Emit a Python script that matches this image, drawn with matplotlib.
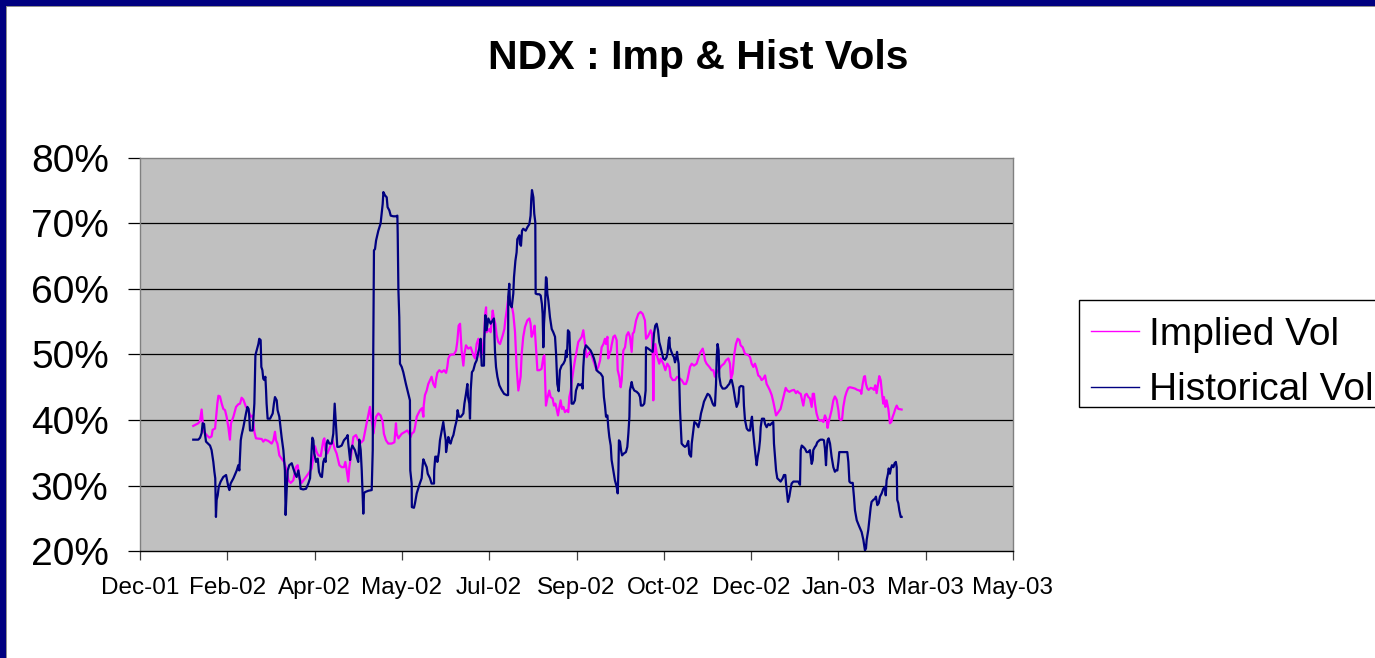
import numpy as np
import matplotlib
matplotlib.use('Agg')
import matplotlib.pyplot as plt
import matplotlib.dates as mdates
from matplotlib.patches import Rectangle
from matplotlib.lines import Line2D
from matplotlib.ticker import FuncFormatter
from datetime import datetime

plt.rcParams['font.family'] = ['Liberation Sans', 'DejaVu Sans']

TITLE = "NDX : Imp & Hist Vols"
SERIES_NAMES = ["Implied Vol", "Historical Vol"]
AXIS_START = datetime(2001, 12, 25)   # first date on the axis (Dec-01 tick)
TICK_STEP_DAYS = 50
N_TICKS = 11
Y_TICKS = [20, 30, 40, 50, 60, 70, 80]

# days after AXIS_START, implied vol in %
imp_day = [
    30.5, 33.4, 34.4, 35.3, 35.9, 36.7, 38.2, 39.7, 41.0, 41.6,
    43.0, 43.5, 44.3, 44.9, 45.8, 46.8, 47.7, 48.7, 49.6, 50.6,
    51.5, 52.1, 53.5, 55.0, 56.3, 57.3, 58.2, 59.2, 60.7, 62.0,
    63.4, 64.5, 65.5, 66.4, 69.7, 70.6, 71.6, 73.5, 75.4, 76.4,
    77.3, 77.9, 78.7, 79.8, 81.1, 82.5, 84.0, 85.0, 86.3, 87.8,
    89.3, 90.3, 91.3, 92.6, 94.5, 96.4, 98.3, 99.3, 100.2, 101.2,
    102.1, 103.5, 105.0, 105.6, 106.1, 107.3, 108.4, 110.3, 111.5, 112.6,
    114.2, 115.5, 116.8, 117.6, 118.4, 119.3, 119.9, 120.8, 122.2, 123.7,
    125.0, 126.4, 127.9, 129.8, 131.7,
    132.3, 133.3, 133.6, 134.2, 135.2, 136.5, 137.8, 139.0, 139.7, 140.9,
    142.2, 144.1, 145.7, 146.6, 147.0, 148.0, 148.5, 149.9, 151.8, 153.1,
    154.3, 155.0, 155.6, 156.9, 157.5, 158.5, 159.4, 160.4, 161.5, 162.3,
    162.5, 163.2, 164.2, 165.1, 166.1, 167.0, 168.0, 169.0, 169.5, 170.3,
    171.4, 172.8, 174.1, 175.3, 176.0, 176.6, 177.5, 178.5, 179.8, 181.0,
    181.7, 182.5, 183.3, 183.8, 184.2, 185.2, 185.8, 186.7, 188.0, 189.4,
    190.9, 191.9, 192.8, 193.8, 194.3, 195.1, 196.1, 197.2, 197.6, 198.2,
    198.5, 199.5, 200.1, 200.8, 201.4, 202.0, 202.7, 203.5, 204.3, 205.2,
    206.2, 207.7, 208.7, 209.2, 210.0, 211.0, 211.9, 212.9, 213.8, 214.8,
    215.7, 216.7, 217.3, 218.0, 218.6, 219.5, 220.5, 221.8, 223.0, 223.7,
    224.3, 225.3, 226.0, 226.8, 227.6, 228.7, 230.0, 231.0, 231.6, 232.0,
    232.5, 233.3, 234.4, 235.2, 236.3, 237.1, 237.9, 238.6, 239.4, 240.2,
    240.9, 241.7, 242.5, 243.4, 244.4, 245.3, 245.9, 246.7, 247.4, 248.2,
    249.1, 250.1, 251.0,
    253.0, 253.9, 254.5, 255.1, 255.8, 256.8, 257.7, 258.7, 259.6, 260.6,
    261.5, 262.5, 263.5, 264.4, 265.4, 266.3, 266.9, 267.7, 268.2, 268.8,
    269.6, 270.1, 271.1, 272.0, 273.0, 273.6, 274.5, 275.3, 275.9, 276.8,
    277.8, 278.7, 279.7, 280.6, 281.6, 282.2, 282.9, 284.1, 285.4, 286.7,
    287.9, 289.2, 289.8, 290.8, 291.7, 292.5, 293.2, 293.6, 294.0, 294.4,
    295.1, 296.3, 297.4, 298.2, 299.7, 300.9, 302.0, 303.2, 303.9, 305.1,
    306.4, 307.7, 309.3, 310.2, 311.6, 312.7, 313.5, 315.0, 316.0, 317.3,
    318.8, 320.3, 321.1, 322.3, 323.0, 323.6, 324.5, 326.1, 327.4, 328.4,
    329.3, 330.3, 331.8, 333.1, 334.5, 335.6, 337.0, 337.9, 338.5, 339.4,
    340.4, 341.3, 342.3, 343.3, 344.0, 345.2, 346.5, 347.5, 348.4, 349.4,
    350.3, 351.3, 352.2, 353.2, 354.1, 355.1, 356.0, 357.0, 358.0, 358.9,
    359.9, 360.8, 361.8, 362.7, 363.7, 364.3, 365.6, 366.9, 368.1, 368.8,
    369.8, 370.7, 371.9, 373.2, 374.6, 375.7, 376.5, 377.6, 378.4,
    379.0, 379.9, 380.9, 381.8, 382.8, 383.7, 384.7, 385.3, 386.0, 386.6,
    387.5, 388.5, 389.5, 390.4, 391.4, 392.3, 393.3, 393.8, 394.4, 395.2,
    396.1, 397.1, 398.0, 399.0, 400.0, 400.5, 401.3, 402.1, 402.8, 403.8,
    404.7, 405.7, 406.6, 408.2, 409.5, 410.8, 412.0, 412.7, 413.1, 413.9,
    414.7, 415.2, 415.8, 416.6, 417.3, 418.5, 419.6, 420.4, 421.1, 421.9,
    422.7, 423.4, 424.2, 425.0, 425.7, 426.1, 426.9, 427.6, 428.6, 429.5,
    430.3, 431.1, 431.8, 432.6, 433.4, 434.3, 436.2,
]
imp_vol = [
    39.1, 39.5, 39.9, 41.6, 39.7, 38.2, 37.7, 37.3, 37.5, 38.5,
    38.7, 40.1, 42.5, 43.7, 43.6, 42.5, 41.7, 41.5, 40.5, 38.9,
    37.0, 39.5, 40.5, 42.0, 42.4, 42.5, 43.4, 43.1, 42.0, 41.5,
    40.5, 40.7, 38.2, 37.2, 37.1, 36.7, 37.0, 36.8, 36.4, 36.9,
    38.2, 36.9, 36.4, 34.6, 34.1, 33.6, 32.3, 30.8, 30.4, 30.8,
    32.8, 33.1, 31.1, 30.4, 31.1, 31.8, 32.6, 34.4, 36.0, 35.1,
    34.6, 34.5, 36.9, 37.2, 35.4, 34.9, 35.6, 36.9, 35.6, 34.9,
    33.1, 32.8, 32.8, 33.6, 32.3, 30.6, 32.8, 34.4, 37.4, 37.7,
    36.9, 36.5, 36.9, 39.5, 42.0,
    40.5, 38.9, 37.9, 38.9, 40.5, 41.0, 40.7, 39.7, 37.9, 36.9,
    36.4, 36.4, 36.6, 39.5, 37.9, 37.2, 37.4, 37.9, 38.2, 38.4,
    37.9, 37.4, 37.9, 38.2, 38.9, 40.5, 41.0, 41.5, 41.8, 40.5,
    42.2, 43.8, 44.5, 45.5, 46.1, 46.6, 45.5, 45.0, 46.1, 47.2,
    47.6, 47.3, 47.6, 47.2, 48.1, 49.4, 49.9, 50.0, 50.0, 50.6,
    51.9, 54.4, 54.7, 52.4, 50.6, 48.3, 50.1, 51.4, 50.9, 51.1,
    49.9, 49.4, 51.6, 52.4, 51.4, 49.6, 50.6, 52.9, 56.0, 57.2,
    53.4, 53.7, 53.9, 53.4, 54.9, 56.7, 55.5, 54.7, 52.9, 51.9,
    51.6, 52.9, 53.9, 55.2, 56.7, 58.8, 58.2, 57.5, 56.2, 53.4,
    48.1, 44.5, 45.5, 46.6, 50.1, 52.7, 54.2, 55.2, 55.5, 54.7,
    52.7, 53.4, 54.4, 50.9, 47.6, 47.6, 47.8, 49.6, 49.9, 46.6,
    42.2, 43.3, 44.5, 43.5, 43.3, 42.2, 42.5, 41.7, 40.7, 42.0,
    43.0, 41.7, 42.0, 41.2, 41.5, 41.2, 43.5, 44.5, 46.1, 47.6,
    49.1, 50.6, 51.9,
    52.7, 53.7, 52.4, 51.1, 49.6, 50.1, 50.4, 49.9, 49.1, 48.3,
    47.6, 48.1, 49.1, 51.1, 51.6, 52.4, 51.6, 52.7, 49.4, 50.1,
    50.6, 51.4, 52.7, 52.9, 52.2, 47.6, 46.6, 45.0, 46.1, 50.6,
    51.1, 52.9, 53.4, 52.7, 50.4, 53.2, 53.4, 55.2, 56.2, 56.5,
    56.2, 55.2, 52.4, 52.7, 53.2, 53.7, 53.2, 50.6, 43.0, 49.6,
    51.6, 49.6, 48.6, 49.4, 48.6, 47.6, 48.6, 48.1, 46.6, 46.1,
    46.1, 46.6, 46.3, 46.1, 45.5, 45.5, 46.1, 48.1, 48.6, 48.3,
    48.6, 49.9, 50.4, 50.9, 50.1, 49.1, 48.6, 48.1, 47.6, 47.6,
    46.6, 47.3, 47.8, 48.3, 48.6, 49.1, 49.4, 48.6, 46.3, 47.1,
    50.1, 51.6, 52.4, 52.2, 51.4, 51.1, 50.1, 50.0, 49.9, 49.6,
    48.6, 48.1, 48.6, 47.8, 46.8, 46.6, 46.1, 46.3, 46.8, 45.5,
    45.0, 44.5, 43.8, 42.8, 41.5, 40.7, 41.2, 41.7, 43.0, 43.8,
    44.9, 44.5, 44.3, 44.5, 44.6, 44.1, 44.4, 44.1, 44.0,
    43.3, 42.2, 43.8, 44.0, 43.5, 43.3, 42.0, 44.0, 44.0, 42.5,
    41.0, 40.1, 39.9, 40.0, 39.7, 40.7, 40.0, 38.8, 39.7, 40.5,
    41.5, 43.0, 43.6, 43.1, 41.5, 40.2, 40.0, 40.1, 42.0, 43.5,
    44.3, 44.9, 45.0, 44.9, 44.8, 44.6, 44.5, 44.5, 44.0, 45.5,
    46.6, 46.7, 45.5, 44.8, 44.6, 44.9, 44.8, 44.6, 45.3, 44.1,
    45.5, 46.7, 46.1, 44.0, 42.5, 43.5, 42.0, 43.0, 41.7, 39.5,
    39.7, 40.5, 41.0, 41.7, 42.2, 41.7, 41.6,
]

# days after AXIS_START, historical vol in %
hist_day = [
    30.5, 33.4, 34.4, 35.3, 35.9, 36.7, 37.2, 37.8, 40.1, 41.0,
    42.0, 42.6, 43.1, 43.5, 43.9, 44.5, 45.1, 46.2, 47.7, 49.3,
    50.0, 50.6, 51.2, 51.9, 53.5, 55.4, 56.3, 56.9, 57.7, 58.2,
    59.2, 60.7, 61.5, 62.2, 62.6, 63.0, 64.5, 65.5, 66.1, 66.8,
    67.8, 68.3, 69.1, 69.5, 70.1, 70.6, 71.2, 71.8, 72.2, 72.5,
    73.1, 74.5, 76.0, 76.7, 77.3, 78.3, 78.8, 79.8, 81.1, 82.1,
    83.0, 83.4, 84.0, 84.6, 85.5, 86.9, 87.8, 88.8, 89.7, 90.7,
    91.6, 92.0, 93.5, 95.1, 96.4, 97.4, 98.3, 98.7, 99.3, 99.8,
    100.8, 101.8, 102.5, 103.5, 104.2, 105.0, 105.6, 106.3, 106.9, 107.5,
    108.4, 109.8, 110.7, 111.5, 112.3, 113.0, 114.0, 115.5, 116.8, 118.4,
    118.9, 119.3, 120.3, 120.8, 121.6, 123.1, 124.1, 125.0, 125.6, 126.4,
    127.0, 127.5, 127.9,
    128.3, 128.9, 130.8, 132.7, 133.3, 133.6, 134.0, 134.6, 135.2, 136.5,
    137.8, 138.4, 139.0, 139.4, 140.3, 141.3, 141.8, 142.8, 143.6, 145.1,
    146.6, 147.4, 147.6, 148.0, 148.5, 148.9, 149.9, 150.8, 152.3, 153.7,
    154.6, 154.8, 155.6, 155.7, 156.9, 157.5, 158.5, 160.0, 161.3, 161.9,
    162.3, 163.2, 164.2, 164.8, 166.1, 167.0, 168.4, 168.5, 169.1, 169.9,
    170.3, 171.2, 171.8, 172.8, 173.7, 174.3, 175.1, 175.3, 176.0, 176.6,
    177.2, 177.9, 178.7, 179.5, 180.4, 181.4, 181.9, 182.7, 183.8, 185.2,
    185.8, 186.7, 187.5, 187.9, 188.6, 189.0, 189.4, 190.1, 190.9, 191.9,
    192.8, 193.8, 194.3, 195.1, 195.7, 197.0, 197.2, 197.8, 198.5, 199.5,
    200.8, 202.0, 202.7, 203.3, 203.9, 204.7, 205.8, 207.1, 208.5, 210.0,
    210.8, 210.9, 211.5, 211.9, 212.9, 213.8, 214.2, 215.0, 215.7, 216.1,
    217.3, 217.6, 218.2, 218.8, 219.5, 220.9, 221.8, 223.0, 223.7, 224.1,
    224.5, 225.3, 225.8, 226.4, 226.6, 227.6, 228.7, 229.5, 230.2, 230.6,
    231.0, 231.4, 232.0, 232.5, 232.9, 233.3, 233.9, 234.8, 235.8, 236.7,
    237.7, 238.3, 239.0, 239.8, 240.2, 240.5, 241.5, 242.5, 243.4, 244.0,
    244.4, 244.7, 245.1, 245.9, 246.3, 246.8, 247.2, 248.2, 249.1, 249.7,
    251.0, 252.0,
    253.0, 253.5, 253.9, 254.5, 255.4, 256.8, 258.1, 259.3, 260.0, 260.8,
    261.5, 262.7, 263.8, 265.0, 265.7, 266.3, 266.9, 267.7, 268.2, 268.8,
    269.6, 270.1, 271.1, 272.0, 273.0, 273.6, 274.0, 274.3, 274.9, 275.5,
    276.1, 277.2, 278.3, 279.1, 279.7, 280.3, 280.6, 281.6, 282.2, 283.1,
    284.5, 285.6, 286.4, 286.9, 287.9, 288.8, 289.6, 289.8, 291.1, 292.5,
    293.6, 294.4, 295.1, 295.9, 296.7, 297.4, 298.2, 298.8, 299.7, 300.7,
    301.6, 302.2, 302.8, 303.2, 303.5, 304.1, 305.1, 305.8, 306.4, 307.0,
    307.6, 307.9, 308.5, 308.9, 309.3, 310.2, 311.2, 312.1, 313.1, 314.0,
    314.6, 315.6, 316.0, 316.9, 317.5, 318.8, 319.8, 320.7, 321.3, 322.3,
    323.0, 324.2, 325.1, 326.1, 327.0, 328.0, 328.7, 329.3, 329.9, 330.3,
    330.8, 331.4, 331.8, 332.6, 333.7, 335.0, 336.0, 336.8, 337.5, 338.3,
    338.9, 339.8, 340.8, 341.7, 342.7, 343.3, 344.2, 345.5, 345.9, 346.5,
    347.5, 348.4, 349.4, 349.9, 350.5, 351.1, 351.8, 352.4, 353.2, 353.8,
    354.5, 355.1, 355.5, 356.2, 357.4, 358.0, 358.9, 359.9, 360.8, 361.8,
    362.7, 363.1, 363.7, 364.3, 365.0, 366.2, 366.9, 368.1, 368.8, 369.6,
    370.0, 370.6, 371.1, 371.9, 372.5, 373.2, 374.2, 375.7, 377.0, 378.0,
    378.4, 379.0, 379.9, 380.9, 381.8, 382.8, 383.7, 384.7, 385.3, 385.6,
    386.6, 387.2, 387.9, 389.1, 389.8, 391.0, 391.7, 392.3, 392.9, 393.3,
    393.8, 394.4, 395.2, 396.1, 397.1, 398.0, 398.6, 399.4, 400.0, 400.5,
    401.9, 403.8, 405.1, 405.7, 406.3, 407.0, 408.2, 408.9, 409.5, 410.5,
    412.0, 413.3, 414.3, 415.2, 415.8, 416.2, 417.1, 417.7, 418.5, 419.0,
    420.0, 421.0, 421.5, 422.3, 423.1, 423.8, 424.8, 425.7, 426.7, 427.1,
    427.6, 428.4, 428.8, 429.5, 430.1, 430.7, 431.5, 432.2, 432.9, 433.4,
    433.7, 434.3, 434.9, 435.7, 436.2,
]
hist_vol = [
    37.0, 37.0, 37.3, 38.0, 39.5, 39.4, 37.9, 36.7, 36.1, 35.4,
    33.6, 32.1, 31.1, 25.2, 27.8, 28.5, 29.8, 30.6, 31.3, 31.6,
    30.6, 29.8, 29.3, 30.3, 31.1, 32.3, 33.1, 32.3, 36.9, 37.7,
    38.9, 41.0, 42.0, 41.7, 40.5, 38.4, 38.4, 42.5, 49.9, 50.6,
    51.6, 52.4, 52.2, 48.1, 47.6, 46.3, 46.1, 46.6, 44.5, 42.5,
    40.2, 40.2, 41.0, 42.5, 43.5, 43.0, 41.5, 40.5, 37.4, 35.4,
    32.3, 25.5, 29.3, 32.3, 33.1, 33.4, 32.6, 31.8, 31.3, 32.3,
    30.8, 29.5, 29.4, 29.5, 30.3, 31.1, 35.4, 37.3, 36.9, 34.9,
    33.6, 34.1, 32.1, 31.4, 31.3, 33.6, 34.1, 33.6, 36.4, 36.9,
    36.4, 36.4, 37.9, 42.5, 38.9, 35.9, 35.9, 36.1, 36.9, 37.4,
    37.7, 36.4, 33.9, 35.4, 36.1, 35.4, 34.4, 33.6, 37.0, 35.4,
    32.3, 28.8, 25.7,
    28.8, 29.0, 29.2, 29.3, 35.4, 50.6, 65.9, 66.1, 67.4, 68.9,
    70.0, 71.5, 73.0, 74.8, 74.3, 74.0, 72.5, 72.0, 71.2, 71.1,
    71.1, 71.2, 68.4, 59.8, 55.7, 48.6, 48.1, 47.3, 45.5, 44.0,
    43.0, 32.3, 30.3, 26.7, 26.6, 27.3, 28.8, 30.1, 31.1, 33.1,
    34.0, 33.4, 32.8, 31.8, 31.1, 30.3, 30.3, 32.3, 34.4, 34.4,
    33.6, 35.1, 36.9, 38.4, 39.7, 38.4, 36.9, 35.1, 36.4, 37.4,
    36.7, 36.4, 37.2, 37.7, 38.9, 40.0, 41.5, 40.5, 40.5, 41.0,
    42.5, 44.0, 45.5, 43.5, 42.5, 40.2, 44.5, 47.3, 47.6, 48.6,
    49.1, 50.4, 50.9, 52.4, 48.3, 48.3, 52.4, 56.0, 53.7, 55.5,
    54.7, 55.2, 55.5, 50.6, 48.1, 46.6, 45.3, 44.6, 44.0, 43.8,
    43.8, 58.8, 60.8, 57.7, 57.2, 59.3, 61.8, 64.3, 65.6, 67.6,
    68.2, 66.9, 66.6, 68.9, 69.2, 68.9, 69.4, 69.9, 71.2, 73.7,
    75.1, 74.0, 71.5, 70.2, 59.3, 59.2, 59.2, 59.0, 57.7, 56.2,
    51.1, 54.7, 57.5, 61.8, 61.6, 59.3, 58.2, 55.7, 53.9, 53.4,
    52.7, 50.1, 45.5, 44.4, 46.1, 47.6, 48.3, 48.6, 49.1, 50.6,
    49.6, 50.9, 53.7, 53.4, 50.6, 48.1, 42.5, 42.5, 43.0, 44.5,
    45.5, 45.3,
    45.5, 44.8, 48.1, 50.6, 51.4, 51.0, 50.6, 49.9, 49.4, 48.6,
    47.6, 47.3, 47.1, 46.6, 43.5, 42.2, 40.5, 40.7, 38.9, 37.4,
    36.1, 33.9, 32.3, 30.8, 29.8, 28.8, 32.3, 36.9, 36.7, 35.4,
    34.6, 34.9, 35.1, 35.9, 37.9, 40.5, 44.5, 45.8, 45.0, 44.5,
    44.3, 44.0, 43.5, 42.2, 42.2, 42.5, 44.5, 51.1, 50.9, 50.6,
    50.4, 53.2, 54.4, 54.7, 53.7, 51.9, 51.1, 50.4, 49.4, 49.2,
    49.6, 50.4, 52.2, 52.6, 51.1, 50.6, 49.9, 49.6, 48.8, 49.4,
    50.4, 49.6, 48.6, 45.5, 41.5, 36.4, 36.1, 35.9, 36.1, 36.8,
    34.8, 34.4, 36.4, 38.4, 39.7, 39.4, 38.9, 40.0, 41.0, 42.0,
    42.8, 43.5, 44.0, 43.8, 43.3, 42.5, 42.2, 42.2, 45.5, 49.6,
    51.6, 50.6, 46.6, 45.3, 44.8, 44.8, 45.0, 45.3, 45.5, 46.1,
    46.1, 45.0, 43.3, 42.0, 42.7, 45.0, 45.2, 45.1, 42.2, 40.0,
    38.7, 38.4, 38.4, 39.7, 40.5, 38.4, 36.4, 34.9, 33.1, 34.4,
    35.4, 36.9, 38.9, 40.2, 40.2, 39.4, 38.9, 39.4, 39.2, 39.5,
    39.7, 36.4, 34.4, 32.3, 31.1, 30.8, 30.6, 31.1, 31.6, 31.6,
    30.3, 28.8, 27.5, 28.3, 29.3, 30.3, 30.6, 30.6, 30.6, 30.1,
    35.4, 36.1, 35.9, 35.6, 35.1, 35.1, 35.4, 33.3, 33.9, 35.4,
    35.9, 36.1, 36.6, 36.9, 37.0, 37.0, 36.9, 35.6, 33.1, 35.4,
    36.9, 37.2, 36.4, 34.4, 32.8, 32.1, 32.3, 32.3, 33.6, 35.1,
    35.1, 35.1, 35.1, 33.6, 30.6, 30.4, 30.4, 28.3, 26.2, 24.7,
    23.7, 22.9, 21.7, 20.1, 20.4, 21.7, 23.2, 24.7, 26.7, 27.5,
    27.8, 28.0, 28.3, 27.0, 27.3, 28.3, 28.8, 29.5, 29.8, 28.5,
    30.8, 31.8, 32.6, 31.8, 32.6, 33.1, 32.8, 33.4, 33.6, 32.8,
    27.8, 27.3, 26.2, 25.2, 25.2,
]

assert len(imp_day) == len(imp_vol), (len(imp_day), len(imp_vol))
assert len(hist_day) == len(hist_vol), (len(hist_day), len(hist_vol))

W, H = 1375, 658
fig = plt.figure(figsize=(W / 100, H / 100), dpi=100)
fig.patch.set_facecolor('white')

# slide frame (navy band on top and left, thin grey inner edge)
fig.patches.append(Rectangle((0, 1 - 6 / H), 1, 6 / H, transform=fig.transFigure,
                             facecolor='#000080', edgecolor='none', zorder=0))
fig.patches.append(Rectangle((0, 1 - 7 / H), 1, 1 / H, transform=fig.transFigure,
                             facecolor='#909090', edgecolor='none', zorder=0))
fig.patches.append(Rectangle((0, 0), 6 / W, 1, transform=fig.transFigure,
                             facecolor='#000080', edgecolor='none', zorder=0))
fig.patches.append(Rectangle((6 / W, 0), 1 / W, 1 - 6 / H, transform=fig.transFigure,
                             facecolor='#909090', edgecolor='none', zorder=0))

ax = fig.add_axes([140 / W, (H - 551) / H, 873 / W, 393 / H])
ax.set_facecolor('#C0C0C0')

base = mdates.date2num(AXIS_START)
ax.plot(base + np.array(imp_day), imp_vol, color='#FF00FF', lw=1.6, zorder=3,
        solid_joinstyle='round')
ax.plot(base + np.array(hist_day), hist_vol, color='#000080', lw=1.6, zorder=4,
        solid_joinstyle='round')

ax.set_xlim(base, base + TICK_STEP_DAYS * (N_TICKS - 1))
ax.set_ylim(Y_TICKS[0], Y_TICKS[-1])
ax.set_xticks([base + i * TICK_STEP_DAYS for i in range(N_TICKS)])
ax.xaxis.set_major_formatter(mdates.DateFormatter('%b-%y'))
ax.set_yticks(Y_TICKS)
ax.yaxis.set_major_formatter(FuncFormatter(lambda v, p: f'{v:.0f}%'))

for y in Y_TICKS[1:-1]:
    ax.axhline(y, color='black', lw=0.9, zorder=2)

for side in ['left', 'top', 'right']:
    ax.spines[side].set_color('#808080')
    ax.spines[side].set_linewidth(1.0)
ax.spines['bottom'].set_color('black')
ax.spines['bottom'].set_linewidth(1.0)

ax.tick_params(axis='y', direction='out', length=8.5, width=0.9, color='black',
               labelsize=28, pad=14)
ax.tick_params(axis='x', direction='out', length=6.5, width=0.9, color='#404040',
               labelsize=17.5, pad=12.5)

fig.text(698.5 / W, 1 - 58 / H, TITLE, ha='center', va='center',
         fontsize=29.5, fontweight='bold')

# legend box (extends past the right edge, as in the source slide)
fig.patches.append(Rectangle((1079 / W, 1 - 407 / H), 300 / W, 107 / H,
                             transform=fig.transFigure, facecolor='white',
                             edgecolor='black', linewidth=1.0, zorder=1))
handles = [Line2D([], [], color='#FF00FF', lw=1.0),
           Line2D([], [], color='#000080', lw=1.0)]
leg = fig.legend(handles, SERIES_NAMES, loc='upper left',
                 bbox_to_anchor=(1079 / W, 1 - 305 / H), bbox_transform=fig.transFigure,
                 borderaxespad=0, frameon=False, fontsize=28,
                 handlelength=1.23, handletextpad=0.26, borderpad=0.3,
                 labelspacing=0.51)
leg.set_zorder(5)

fig.savefig('out.png', dpi=100)
